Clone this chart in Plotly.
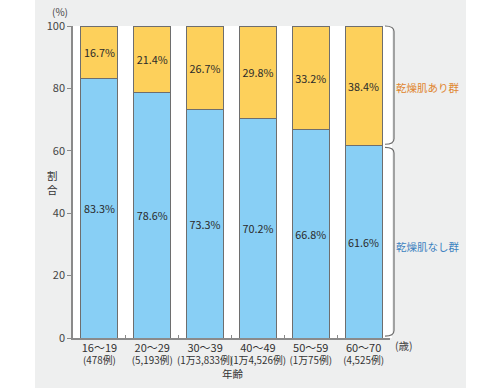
import plotly.graph_objects as go

age_groups = ["16〜19", "20〜29", "30〜39", "40〜49", "50〜59", "60〜70"]
case_counts = ["(478例)", "(5,193例)", "(1万3,833例)", "(1万4,526例)", "(1万75例)", "(4,525例)"]
no_dry_skin = [83.3, 78.6, 73.3, 70.2, 66.8, 61.6]
dry_skin = [16.7, 21.4, 26.7, 29.8, 33.2, 38.4]
y_ticks = [0, 20, 40, 60, 80, 100]

FONT = "Noto Sans CJK JP, Noto Sans, sans-serif"
categories = [f"<span style='font-size:11px'>{a}</span><br>{c}"
              for a, c in zip(age_groups, case_counts)]

W, H = 500, 388
ML, MR, MT, MB = 73, 110, 26, 50
PW, PH = W - ML - MR, H - MT - MB

def px_x(p):
    return (p - ML) / PW

def px_y(p):
    return (H - MB - p) / PH

fig = go.Figure()
fig.add_trace(go.Bar(
    x=categories, y=no_dry_skin, name="乾燥肌なし群",
    marker=dict(color="#88CFF5", line=dict(color="#6E6E6E", width=1)),
    width=0.7, texttemplate="%{y:.1f}%", textposition="inside",
    insidetextanchor="middle", textangle=0,
    textfont=dict(family=FONT, size=12, color="#2A2A2A"),
    hoverinfo="skip",
))
fig.add_trace(go.Bar(
    x=categories, y=dry_skin, name="乾燥肌あり群",
    marker=dict(color="#FDD05B", line=dict(color="#6E6E6E", width=1)),
    width=0.7, texttemplate="%{y:.1f}%", textposition="inside",
    insidetextanchor="middle", textangle=0,
    textfont=dict(family=FONT, size=12, color="#2A2A2A"),
    hoverinfo="skip",
))

top = 100.0
split = no_dry_skin[-1]
x0 = px_x(385)
x1 = px_x(394)
def yv(v):
    return v / 100.0
r = 1.8
g = 0.5
brace_top = (f"M {x0},{yv(top)} Q {x1},{yv(top)} {x1},{yv(top - r)} "
             f"L {x1},{yv(split + g + r)} Q {x1},{yv(split + g)} {x0},{yv(split + g)}")
brace_bot = (f"M {x0},{yv(split - g)} Q {x1},{yv(split - g)} {x1},{yv(split - g - r)} "
             f"L {x1},{yv(0.6 + r)} Q {x1},{yv(0.6)} {x0},{yv(0.6)}")

shapes = [
    dict(type="rect", xref="paper", yref="paper", x0=px_x(35), x1=px_x(466),
         y0=px_y(388), y1=px_y(0), fillcolor="#EEEFEF", line=dict(width=0), layer="below"),
    dict(type="rect", xref="paper", yref="paper", x0=0, x1=px_x(392),
         y0=0, y1=1, fillcolor="#FFFFFF", line=dict(width=0), layer="below"),
    dict(type="path", xref="paper", yref="paper", path=brace_top,
         line=dict(color="#6E6E6E", width=1.2)),
    dict(type="path", xref="paper", yref="paper", path=brace_bot,
         line=dict(color="#6E6E6E", width=1.2)),
]

def ann(text, x, y, size=10.5, color="#444444"):
    return dict(text=text, xref="paper", yref="paper", x=px_x(x), y=px_y(y),
                xanchor="center", yanchor="middle", showarrow=False,
                font=dict(family=FONT, size=size, color=color))

annotations = [
    ann("(%)", 60, 12, 10),
    ann("割<br>合", 52, 182, 10.5, "#333333"),
    ann("(歳)", 404, 345),
    ann("年齢", 233, 373, 10.5, "#333333"),
    ann("乾燥肌あり群", 428, 88, 10.5, "#E0852E"),
    ann("乾燥肌なし群", 428, 247, 10.5, "#3C82C0"),
]

fig.update_layout(
    width=W, height=H, barmode="stack", bargap=0.3, showlegend=False,
    margin=dict(l=ML, r=MR, t=MT, b=MB, pad=0, autoexpand=False),
    paper_bgcolor="#FFFFFF", plot_bgcolor="rgba(0,0,0,0)",
    font=dict(family=FONT, color="#444444"),
    shapes=shapes, annotations=annotations,
    xaxis=dict(type="category", showline=True, linecolor="#8A8A8A", linewidth=1.5,
               ticks="inside", tickson="boundaries", ticklen=3, tickcolor="#8A8A8A",
               tickangle=0, automargin=False,
               tickfont=dict(family=FONT, size=9.8, color="#333333"),
               showgrid=False, fixedrange=True),
    yaxis=dict(range=[0, 100], tickvals=y_ticks, showline=True, linecolor="#8A8A8A",
               linewidth=1.5, ticks="outside", ticklen=4, tickcolor="#8A8A8A",
               automargin=False,
               tickfont=dict(family=FONT, size=11, color="#444444"),
               showgrid=False, zeroline=False, fixedrange=True),
)

fig.write_html("out.html", config={"displayModeBar": False},
               post_script="document.body.style.margin='0';document.body.style.overflow='hidden';")
